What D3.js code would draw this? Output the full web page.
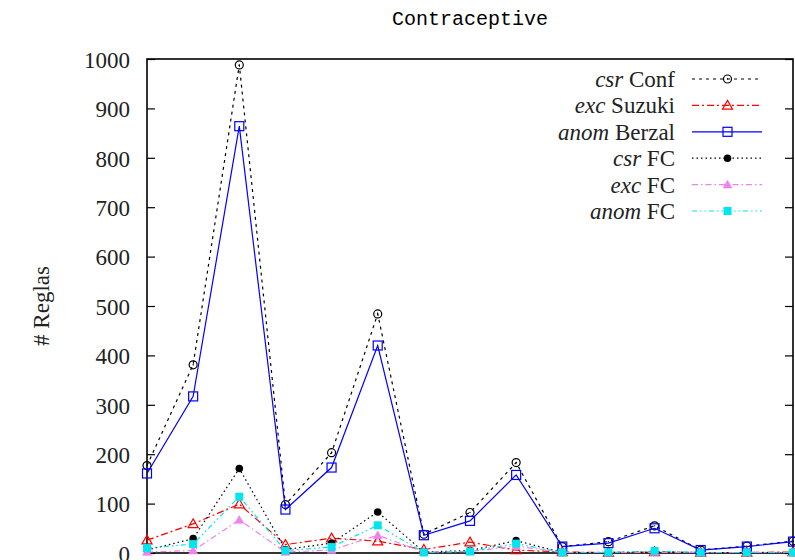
<!DOCTYPE html>
<html>
<head>
<meta charset="utf-8">
<script src="https://cdn.jsdelivr.net/npm/d3@7/dist/d3.min.js"></script>
<style>
  body { margin: 0; background: #fff; }
  svg { display: block; }
</style>
</head>
<body>
<svg id="chart" width="795" height="560"></svg>
<script>
// Dataset index along the x axis
const points = [1, 2, 3, 4, 5, 6, 7, 8, 9, 10, 11, 12, 13, 14, 15];

// Number of rules per dataset
const csrConf    = [177, 381, 988, 98, 203, 484, 38, 82, 183, 13, 23, 55, 6, 14, 24];
const excSuzuki  = [26, 59, 99, 17, 30, 24, 7, 22, 6, 2, 1, 2, 1, 1, 2];
const anomBerzal = [161, 317, 864, 88, 173, 420, 36, 65, 158, 13, 20, 50, 6, 13, 23];
const csrFC      = [6, 29, 171, 7, 20, 83, 2, 5, 25, 1, 1, 2, 1, 1, 1];
const excFC      = [2, 5, 67, 2, 6, 36, 2, 3, 14, 1, 1, 1, 1, 1, 1];
const anomFC     = [10, 18, 114, 5, 12, 56, 1, 3, 19, 1, 1, 4, 1, 1, 1];

const yTicks = [0, 100, 200, 300, 400, 500, 600, 700, 800, 900, 1000];
const titleText = "Contraceptive";
const yLabel = "# Reglas";

const series = [
  { em: "csr",  name: "Conf",   values: csrConf,    color: "#000000", dash: "3,4",             marker: "circleOpen" },
  { em: "exc",  name: "Suzuki", values: excSuzuki,  color: "#ff0000", dash: "7,3,2,3",         marker: "triangleOpen" },
  { em: "anom", name: "Berzal", values: anomBerzal, color: "#0000ff", dash: null,              marker: "squareOpen" },
  { em: "csr",  name: "FC",     values: csrFC,      color: "#000000", dash: "1.5,3",           marker: "circleFilled" },
  { em: "exc",  name: "FC",     values: excFC,      color: "#ee82ee", dash: "6,3,1.5,3",       marker: "triangleFilled" },
  { em: "anom", name: "FC",     values: anomFC,     color: "#00e5ee", dash: "5,3,1.5,3,1.5,3", marker: "squareFilled" }
];

const W = 795, H = 560;
const margin = { top: 59, right: 2, bottom: 7, left: 147 };
const innerW = W - margin.left - margin.right;
const innerH = H - margin.top - margin.bottom;

const svg = d3.select("#chart");
const g = svg.append("g").attr("transform", `translate(${margin.left},${margin.top})`);

const x = d3.scaleLinear().domain([1, 15]).range([0, innerW]);
const y = d3.scaleLinear().domain([0, 1000]).range([innerH, 0]);

const serif = "'Liberation Serif', 'Times New Roman', serif";

// Title
svg.append("text")
  .attr("x", margin.left + innerW / 2)
  .attr("y", 25)
  .attr("text-anchor", "middle")
  .attr("font-family", "'Liberation Mono', 'DejaVu Sans Mono', monospace")
  .attr("font-size", 20)
  .attr("fill", "#000")
  .text(titleText);

// Y axis label
svg.append("text")
  .attr("transform", `translate(49,${margin.top + innerH / 2}) rotate(-90)`)
  .attr("text-anchor", "middle")
  .attr("font-family", serif)
  .attr("font-size", 23)
  .attr("fill", "#222")
  .text(yLabel);

// Left axis: inward ticks and labels
const yAxis = d3.axisLeft(y).tickValues(yTicks).tickSize(-8).tickPadding(17).tickFormat(d3.format("d"));
const ya = g.append("g").call(yAxis);
ya.select(".domain").remove();
ya.selectAll(".tick line").attr("stroke", "#000").attr("stroke-width", 1.2);
ya.selectAll(".tick text")
  .attr("font-family", serif).attr("font-size", 23).attr("fill", "#222")
  .attr("dy", "0.36em");

// Right axis: mirrored ticks only
const yAxisR = d3.axisRight(y).tickValues(yTicks).tickSize(-8).tickFormat("");
const yr = g.append("g").attr("transform", `translate(${innerW},0)`).call(yAxisR);
yr.select(".domain").remove();
yr.selectAll(".tick line").attr("stroke", "#000").attr("stroke-width", 1.2);

// Plot border
g.append("rect")
  .attr("x", 0).attr("y", 0).attr("width", innerW).attr("height", innerH)
  .attr("fill", "none").attr("stroke", "#000").attr("stroke-width", 1.6);

// Marker drawing
function drawMarker(sel, type, color, cx, cy) {
  if (type === "circleOpen") {
    sel.append("circle").attr("cx", cx).attr("cy", cy).attr("r", 4)
      .attr("fill", "none").attr("stroke", color).attr("stroke-width", 1.2);
    sel.append("circle").attr("cx", cx).attr("cy", cy).attr("r", 0.7).attr("fill", color);
  } else if (type === "circleFilled") {
    sel.append("circle").attr("cx", cx).attr("cy", cy).attr("r", 3.8).attr("fill", color);
  } else if (type === "triangleOpen" || type === "triangleFilled") {
    const filled = type === "triangleFilled";
    sel.append("path")
      .attr("d", d3.symbol().type(d3.symbolTriangle).size(filled ? 34 : 44)())
      .attr("transform", `translate(${cx},${cy + 0.8})`)
      .attr("fill", filled ? color : "none")
      .attr("stroke", color).attr("stroke-width", filled ? 0.6 : 1.2);
  } else if (type === "squareOpen") {
    sel.append("rect").attr("x", cx - 4.5).attr("y", cy - 4.5).attr("width", 9).attr("height", 9)
      .attr("fill", "none").attr("stroke", color).attr("stroke-width", 1.2);
  } else if (type === "squareFilled") {
    sel.append("rect").attr("x", cx - 4).attr("y", cy - 4).attr("width", 8).attr("height", 8)
      .attr("fill", color);
  }
}

const line = d3.line().x((d, i) => x(points[i])).y(d => y(d));

series.forEach(s => {
  const sg = g.append("g");
  sg.append("path")
    .datum(s.values)
    .attr("d", line)
    .attr("fill", "none")
    .attr("stroke", s.color)
    .attr("stroke-width", 1.2)
    .attr("stroke-dasharray", s.dash);
  s.values.forEach((v, i) => drawMarker(sg, s.marker, s.color, x(points[i]), y(v)));
});

// Legend
const legend = svg.append("g");
series.forEach((s, i) => {
  const ly = 79 + i * 26.4;
  const t = legend.append("text")
    .attr("x", 675).attr("y", ly).attr("dy", "0.35em")
    .attr("text-anchor", "end")
    .attr("font-family", serif).attr("font-size", 23).attr("fill", "#222");
  t.append("tspan").attr("font-style", "italic").text(s.em);
  t.append("tspan").text(" " + s.name);
  legend.append("line")
    .attr("x1", 692).attr("x2", 762).attr("y1", ly).attr("y2", ly)
    .attr("stroke", s.color).attr("stroke-width", 1.2)
    .attr("stroke-dasharray", s.dash);
  drawMarker(legend, s.marker, s.color, 727.5, ly);
});
</script>
</body>
</html>
